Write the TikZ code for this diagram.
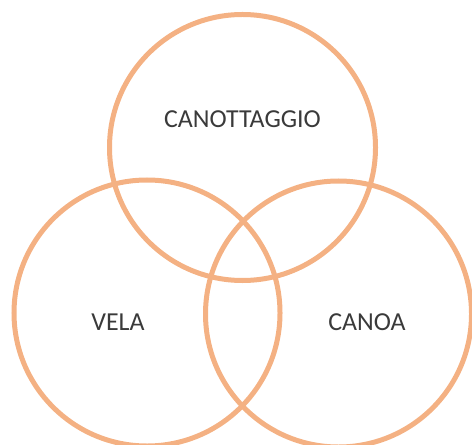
\documentclass[tikz,border=0pt]{standalone}
\usepackage{fontspec}
\setmainfont{Carlito}
\definecolor{ring}{HTML}{F4B183}
\definecolor{txt}{HTML}{3A3A3A}
\begin{document}
\begin{tikzpicture}[x=1bp,y=-1bp,
  ring/.style={draw=ring,line width=5bp,circle,minimum size=266bp,inner sep=0pt},
  lbl/.style={text=txt,font=\fontsize{26}{31}\selectfont,inner sep=0pt}]
\useasboundingbox (0,0) rectangle (472,445);
\node[ring] (top) at (242.5,147.5) {};
\node[ring] (left) at (147,313) {};
\node[ring] (right) at (338.5,314) {};
\node[lbl] (t1) at (242.5,119) {CANOTTAGGIO};
\node[lbl] (t2) at (118,322.5) {VELA};
\node[lbl] (t3) at (367,322.5) {CANOA};
\end{tikzpicture}
\end{document}
